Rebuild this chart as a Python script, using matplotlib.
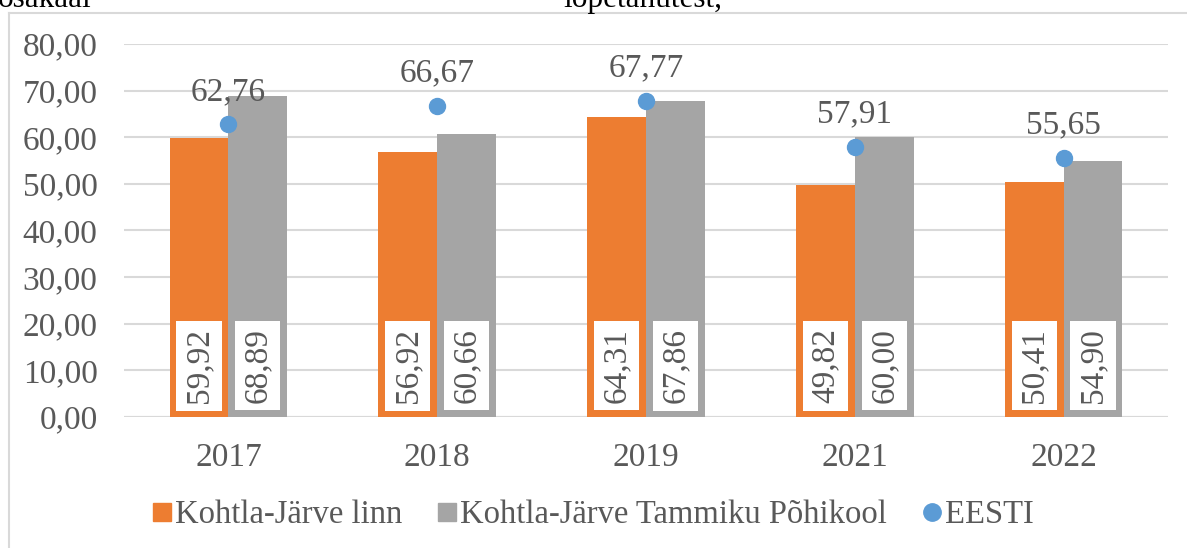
import matplotlib
matplotlib.use("Agg")
import matplotlib.pyplot as plt
from matplotlib.lines import Line2D
import numpy as np

years = ["2017", "2018", "2019", "2021", "2022"]
linn = [59.92, 56.92, 64.31, 49.82, 50.41]
tammiku = [68.89, 60.66, 67.86, 60.00, 54.90]
eesti = [62.76, 66.67, 67.77, 57.91, 55.65]
yticks = [0, 10, 20, 30, 40, 50, 60, 70, 80]
series_names = ["Kohtla-Järve linn", "Kohtla-Järve Tammiku Põhikool", "EESTI"]

C_OR = "#ED7D31"
C_GR = "#A5A5A5"
C_BL = "#5B9BD5"
TXT = "#595959"
GRID = "#D9D9D9"
FONT = "Liberation Serif"
FS = 24
FS_LEG = 23.5
FS_TOP = 22.5

plt.rcParams["font.family"] = [FONT, "DejaVu Serif"]

def fmt(v):
    return f"{v:.2f}".replace(".", ",")

W, H = 1187, 548
fig = plt.figure(figsize=(W / 100, H / 100), dpi=100)

# outer frame (cut-off document box)
fig.add_artist(Line2D([8.5 / W, 8.5 / W], [0, 1 - 13 / H], color=GRID, lw=1.5, transform=fig.transFigure))
fig.add_artist(Line2D([8.5 / W, 1], [1 - 13 / H, 1 - 13 / H], color=GRID, lw=1.5, transform=fig.transFigure))

# cut-off title fragments
fig.text(-2 / W, 1 - 7 / H, "osakaal", fontsize=FS_TOP, color="black", ha="left", va="baseline")
fig.text(643 / W, 1 - 7 / H, "lõpetanutest,", fontsize=FS_TOP, color="black", ha="center", va="baseline")

ax = fig.add_axes([124 / W, 1 - 417 / H, (1168 - 124) / W, (417 - 44) / H])
x = np.arange(len(years))
bw = 0.282
ax.bar(x - bw / 2, linn, bw, color=C_OR, zorder=2)
ax.bar(x + bw / 2, tammiku, bw, color=C_GR, zorder=2)
ax.plot(x, eesti, "o", color=C_BL, markersize=11.5, zorder=3, linestyle="none")

for i in range(len(years)):
    for xx, v in ((x[i] - bw / 2, linn[i]), (x[i] + bw / 2, tammiku[i])):
        ax.text(xx, 11.0, fmt(v), rotation=90, ha="center", va="center", fontsize=FS,
                color=TXT, zorder=4,
                bbox=dict(boxstyle="square,pad=0.22", fc="white", ec="none"))
    ax.text(x[i], eesti[i] + 7.0, fmt(eesti[i]), ha="center", va="center", fontsize=FS, color=TXT, zorder=4)

ax.set_xlim(-0.5, len(years) - 0.5)
ax.set_ylim(0, 80)
ax.set_yticks(yticks)
ax.set_yticklabels([fmt(v) for v in yticks])
ax.set_xticks(x)
ax.set_xticklabels(years)
ax.tick_params(axis="both", length=0, labelsize=FS, colors=TXT)
ax.tick_params(axis="y", pad=19)
ax.tick_params(axis="x", pad=18)
ax.yaxis.grid(True, color=GRID, lw=1.5, zorder=0)
ax.set_axisbelow(True)
for s in ax.spines.values():
    s.set_visible(False)
ax.axhline(0, color=GRID, lw=1.5, zorder=1)

handles = [
    Line2D([], [], marker="s", color=C_OR, linestyle="none", markersize=12.5),
    Line2D([], [], marker="s", color=C_GR, linestyle="none", markersize=12.5),
    Line2D([], [], marker="o", color=C_BL, linestyle="none", markersize=12.5),
]
leg = fig.legend(handles, series_names, loc="center", bbox_to_anchor=(0.5, 1 - 515 / H), ncol=3,
                 frameon=False, prop={"family": [FONT, "DejaVu Serif"], "size": FS_LEG},
                 handlelength=0.55, handletextpad=0.12, columnspacing=1.1, labelcolor=TXT)

fig.savefig("out.png", dpi=100)
